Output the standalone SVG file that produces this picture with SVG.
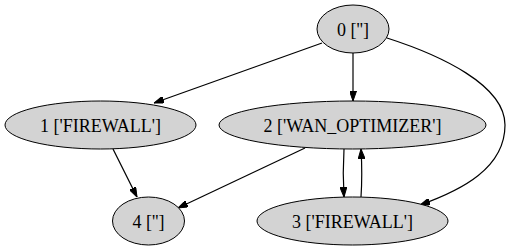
<svg xmlns="http://www.w3.org/2000/svg" width="513" height="251" viewBox="0 0 513 251">
  <style>
    .node ellipse { fill: #d3d3d3; stroke: #000; stroke-width: 1; }
    .node text { font-family: "Liberation Serif", "Times New Roman", serif; font-size: 18px; fill: #000; text-anchor: middle; }
    .edge { fill: none; stroke: #000; stroke-width: 1.2; marker-end: url(#arrow); }
  </style>
  <defs>
    <marker id="arrow" viewBox="0 0 10 7" refX="10" refY="3.5" markerUnits="userSpaceOnUse" markerWidth="10" markerHeight="7" orient="auto">
      <path d="M0,0 L10,3.5 L0,7 z" fill="#000" stroke="#000"/>
    </marker>
  </defs>
  <rect width="513" height="251" fill="#fff"/>

  <g id="edges">
    <path class="edge" d="M322,43 L154,103"/>
    <path class="edge" d="M353,53 L353,101"/>
    <path class="edge" d="M387,38 C440,55 505,85 505,125 C505,168 462,190 420,205"/>
    <path class="edge" d="M344,149 C343,165 343,180 344,197"/>
    <path class="edge" d="M361,197 C362,182 362,166 361,149"/>
    <path class="edge" d="M305,148 L178,208"/>
    <path class="edge" d="M113,149 L137,197"/>
  </g>

  <g id="node0" class="node">
    <ellipse cx="353" cy="29" rx="36" ry="24"/>
    <text x="353" y="35.5">0 ['']</text>
  </g>
  <g id="node1" class="node">
    <ellipse cx="100.5" cy="125" rx="95.5" ry="24"/>
    <text x="100.5" y="131.5">1 ['FIREWALL']</text>
  </g>
  <g id="node2" class="node">
    <ellipse cx="352.5" cy="125" rx="133.5" ry="24"/>
    <text x="352.5" y="131.5">2 ['WAN_OPTIMIZER']</text>
  </g>
  <g id="node3" class="node">
    <ellipse cx="352.5" cy="221" rx="95.5" ry="24"/>
    <text x="352.5" y="227.5">3 ['FIREWALL']</text>
  </g>
  <g id="node4" class="node">
    <ellipse cx="148.5" cy="221" rx="36" ry="24"/>
    <text x="148.5" y="227.5">4 ['']</text>
  </g>
</svg>
